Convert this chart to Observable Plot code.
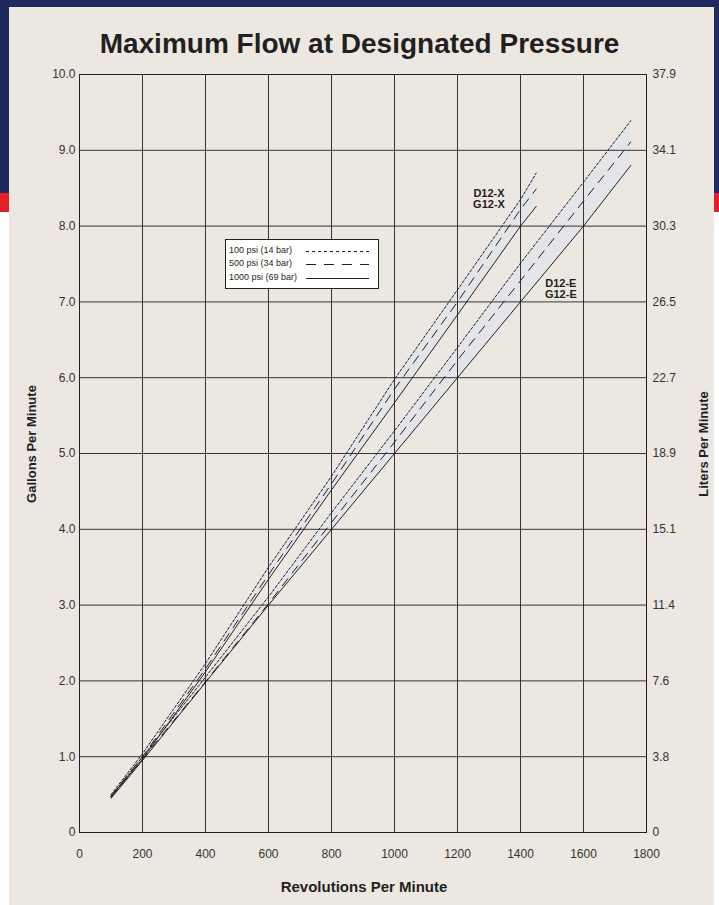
<!DOCTYPE html>
<html>
<head>
<meta charset="utf-8">
<script src="https://cdn.jsdelivr.net/npm/d3@7"></script>
<script src="https://cdn.jsdelivr.net/npm/@observablehq/plot@0.6"></script>
<style>
  html, body { margin: 0; padding: 0; background: #ffffff; }
  #page { position: relative; width: 719px; height: 905px; overflow: hidden; font-family: "Liberation Sans", Arial, sans-serif; }
  #navy { position: absolute; left: 0; top: 0; width: 719px; height: 193px; background: #1e2a5e; }
  #red { position: absolute; left: 0; top: 193px; width: 719px; height: 19px; background: #e41f2b; }
  #panel { position: absolute; left: 9px; top: 7px; width: 705px; height: 898px; background: #ece8e1; }
  #chart { position: absolute; left: 0; top: 0; }
  .title { position: absolute; left: 0; width: 719px; top: 28px; text-align: center; font-weight: bold; font-size: 28px; color: #231f20; white-space: nowrap; }
  .xlab { position: absolute; left: 364px; top: 886px; transform: translate(-50%, -50%); font-weight: bold; font-size: 15px; color: #231f20; white-space: nowrap; }
  .ylab { position: absolute; transform: translate(-50%, -50%) rotate(-90deg); font-weight: bold; font-size: 13px; color: #231f20; white-space: nowrap; }
  #legend { position: absolute; left: 225px; top: 239px; width: 154px; height: 50px; background: #ffffff; border: 1px solid #222; box-sizing: border-box; }
  #legend .row { position: absolute; left: 3px; font-size: 9px; color: #231f20; white-space: nowrap; }
  #legend svg { position: absolute; left: 0; top: 0; }
</style>
</head>
<body>
<div id="page">
  <div id="navy"></div>
  <div id="red"></div>
  <div id="panel"></div>
  <div id="chart"></div>
  <div class="title">Maximum Flow at Designated Pressure</div>
  <div class="xlab">Revolutions Per Minute</div>
  <div class="ylab" style="left:31px; top:444px;">Gallons Per Minute</div>
  <div class="ylab" style="left:703px; top:444px;">Liters Per Minute</div>
  <div id="legend"></div>
</div>
<script>
// ---- data ----
const rpmX = [100, 200, 400, 600, 800, 1000, 1200, 1400, 1450];
const x100psi = [0.50, 1.04, 2.23, 3.50, 4.70, 5.98, 7.16, 8.35, 8.70];
const x500psi = [0.48, 1.00, 2.16, 3.40, 4.60, 5.85, 7.00, 8.22, 8.49];
const x1000psi = [0.47, 0.97, 2.12, 3.34, 4.52, 5.67, 6.83, 8.00, 8.26];

const rpmE = [100, 200, 400, 600, 800, 1000, 1200, 1400, 1600, 1750];
const e100psi = [0.48, 1.00, 2.05, 3.11, 4.22, 5.30, 6.40, 7.51, 8.58, 9.39];
const e500psi = [0.47, 0.97, 1.99, 3.02, 4.09, 5.15, 6.23, 7.28, 8.33, 9.11];
const e1000psi = [0.45, 0.95, 1.98, 3.00, 4.00, 5.00, 6.00, 7.00, 8.00, 8.80];

const xTicks = [0, 200, 400, 600, 800, 1000, 1200, 1400, 1600, 1800];
const gpmTicks = [0, 1, 2, 3, 4, 5, 6, 7, 8, 9, 10];
const gpmLabels = ["0", "1.0", "2.0", "3.0", "4.0", "5.0", "6.0", "7.0", "8.0", "9.0", "10.0"];
const lpmLabels = ["0", "3.8", "7.6", "11.4", "15.1", "18.9", "22.7", "26.5", "30.3", "34.1", "37.9"];

const seriesNames = ["100 psi (14 bar)", "500 psi (34 bar)", "1000 psi (69 bar)"];
const modelLabels = ["D12-X\nG12-X", "D12-E\nG12-E"];
const modelLabelRpm = [1300, 1528];
const modelLabelGpm = [8.36, 7.17];

// ---- build tables ----
const dash = { "100 psi (14 bar)": "2.5,2", "500 psi (34 bar)": "9,7", "1000 psi (69 bar)": null };
function rows(model, rpms, vals, psi) { return rpms.map((r, i) => ({ model, psi, rpm: r, gpm: vals[i] })); }
const lineData = [
  ...rows("X", rpmX, x100psi, seriesNames[0]), ...rows("X", rpmX, x500psi, seriesNames[1]), ...rows("X", rpmX, x1000psi, seriesNames[2]),
  ...rows("E", rpmE, e100psi, seriesNames[0]), ...rows("E", rpmE, e500psi, seriesNames[1]), ...rows("E", rpmE, e1000psi, seriesNames[2])
];
const bandData = [
  ...rpmX.map((r, i) => ({ model: "X", rpm: r, hi: x100psi[i], lo: x1000psi[i] })),
  ...rpmE.map((r, i) => ({ model: "E", rpm: r, hi: e100psi[i], lo: e1000psi[i] }))
];
const labelData = modelLabels.map((t, i) => ({ t, rpm: modelLabelRpm[i], gpm: modelLabelGpm[i] }));

const ink = "#231f20";
const lineMarks = seriesNames.flatMap(psi => ["X", "E"].map(m =>
  Plot.line(lineData.filter(d => d.psi === psi && d.model === m), {
    x: "rpm", y: "gpm", stroke: ink, strokeWidth: 1, strokeDasharray: dash[psi]
  })));

const chart = Plot.plot({
  width: 719, height: 905,
  marginLeft: 79, marginRight: 73, marginTop: 74, marginBottom: 73,
  style: { background: "transparent", fontFamily: "'Liberation Sans', Arial, sans-serif", fontSize: "12px", color: "#333" },
  x: { domain: [0, 1800] },
  y: { domain: [0, 10] },
  marks: [
    Plot.areaY(bandData, { x: "rpm", y1: "lo", y2: "hi", z: "model", fill: "#e4e5e8" }),
    Plot.gridX(xTicks, { stroke: ink, strokeOpacity: 0.9, strokeWidth: 1 }),
    Plot.gridY(gpmTicks, { stroke: ink, strokeOpacity: 0.9, strokeWidth: 1 }),
    Plot.frame({ stroke: ink, strokeWidth: 1 }),
    ...lineMarks,
    Plot.text(labelData, { x: "rpm", y: "gpm", text: "t", fontWeight: "bold", fontSize: 11, fill: ink, lineHeight: 1.05 }),
    Plot.axisX(xTicks, { tickSize: 0, tickPadding: 17, label: null, tickFormat: d => String(d) }),
    Plot.axisY(gpmTicks, { anchor: "left", tickSize: 0, tickPadding: 4, label: null, tickFormat: (d, i) => gpmLabels[i] }),
    Plot.axisY(gpmTicks, { anchor: "right", tickSize: 0, tickPadding: 6, label: null, tickFormat: (d, i) => lpmLabels[i] })
  ]
});
document.getElementById("chart").appendChild(chart);

// ---- legend (HTML key) ----
const legend = document.getElementById("legend");
const rowTops = [5, 18, 32];
seriesNames.forEach((name, i) => {
  const div = document.createElement("div");
  div.className = "row";
  div.style.top = rowTops[i] + "px";
  div.textContent = name;
  legend.appendChild(div);
});
const ns = "http://www.w3.org/2000/svg";
const svg = document.createElementNS(ns, "svg");
svg.setAttribute("width", 152); svg.setAttribute("height", 48);
seriesNames.forEach((name, i) => {
  const ln = document.createElementNS(ns, "line");
  const y = rowTops[i] + 6.5;
  ln.setAttribute("x1", 80); ln.setAttribute("x2", 143);
  ln.setAttribute("y1", y); ln.setAttribute("y2", y);
  ln.setAttribute("stroke", ink); ln.setAttribute("stroke-width", 1);
  if (name === seriesNames[0]) ln.setAttribute("stroke-dasharray", "3,3");
  if (name === seriesNames[1]) ln.setAttribute("stroke-dasharray", "10,8");
  svg.appendChild(ln);
});
legend.appendChild(svg);
</script>
</body>
</html>
